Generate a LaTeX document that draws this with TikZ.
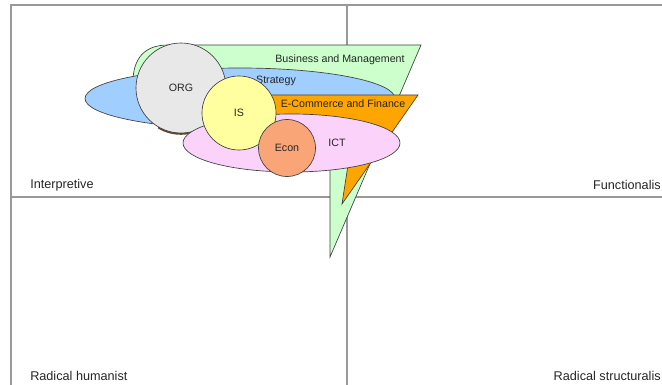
\documentclass[tikz,border=0pt]{standalone}
\usepackage{fontspec}
\setmainfont{Liberation Sans}
\usepackage{tikz}
\usetikzlibrary{shapes.geometric}

\definecolor{bizgreen}{RGB}{204,255,204}
\definecolor{stratblue}{RGB}{160,206,255}
\definecolor{ecomorange}{RGB}{255,165,0}
\definecolor{orggray}{RGB}{232,232,232}
\definecolor{isyellow}{RGB}{255,255,160}
\definecolor{ictpink}{RGB}{250,210,250}
\definecolor{econsalmon}{RGB}{250,165,120}
\definecolor{orgshadow}{RGB}{105,70,35}

\begin{document}
\begin{tikzpicture}[x=0.75pt,y=0.75pt,yscale=-1,xscale=1,
  axis/.style={draw=black!40,line width=0.9pt},
  blob/.style={draw=black!75,line width=0.5pt},
  lbl/.style={inner sep=0.75pt,font=\fontsize{8}{9.6}\selectfont,text=black!85},
  quad/.style={inner sep=0.75pt,font=\fontsize{9.5}{11.4}\selectfont,text=black!85}]
\useasboundingbox (0,0) rectangle (662,385);

%Straight Lines: frame and axes
\draw[axis] (11,385) -- (11,5) -- (662,5) ;
\draw[axis] (347,5) -- (347,385) ;
\draw[axis] (11,197) -- (662,197) ;

%Shape: Business and Management
\draw[blob,fill=bizgreen] (133,95) -- (133,82) .. controls (133,58) and (145,45) .. (168,45) -- (421,45) -- (330,257) -- (330,160) -- (200,100) -- cycle ;
% Text Node
\node[lbl] (bizlbl) at (340,60) {Business and Management};

%Shape: Ellipse Strategy
\node[blob,fill=stratblue,ellipse,minimum width=232.5pt,minimum height=45.75pt,inner sep=0pt] (strategy) at (240,98.5) {};
% Text Node
\node[lbl] (stratlbl) at (276,81) {Strategy};

%Shape: E-Commerce and Finance
\draw[blob,fill=ecomorange] (250,95) -- (418,95) -- (342,204) -- (348,165) -- (250,125) -- cycle ;
% Text Node
\node[lbl] (ecomlbl) at (343,104) {E-Commerce and Finance};

%Shape: shadow under ORG
\begin{scope}
\clip (158,100) rectangle (205,140);
\fill[orgshadow] (181,89.8) circle (45);
\end{scope}

%Shape: Circle ORG
\node[blob,fill=orggray,circle,minimum size=67.5pt,inner sep=0pt,font=\fontsize{8}{9.6}\selectfont,text=black!85] (org) at (181,88) {ORG};

%Shape: Ellipse ICT
\node[blob,fill=ictpink,ellipse,minimum width=162.75pt,minimum height=43.5pt,inner sep=0pt] (ict) at (291.5,143) {};
% Text Node
\node[lbl] (ictlbl) at (337,143) {ICT};

%Shape: Circle IS
\node[blob,fill=isyellow,circle,minimum size=55.5pt,inner sep=0pt,font=\fontsize{8}{9.6}\selectfont,text=black!85] (is) at (239,113) {IS};

%Shape: Circle Econ
\node[blob,fill=econsalmon,circle,minimum size=42.75pt,inner sep=0pt,font=\fontsize{8}{9.6}\selectfont,text=black!85] (econ) at (287,148) {Econ};

% Text Node
\node[quad,anchor=west] (interp) at (29,185) {Interpretive};
% Text Node
\node[quad,anchor=east] (func) at (662,185) {Functionalis};
% Text Node
\node[quad,anchor=west] (radhum) at (29,376) {Radical humanist};
% Text Node
\node[quad,anchor=east] (radstr) at (662,376) {Radical structuralis};

\end{tikzpicture}
\end{document}
